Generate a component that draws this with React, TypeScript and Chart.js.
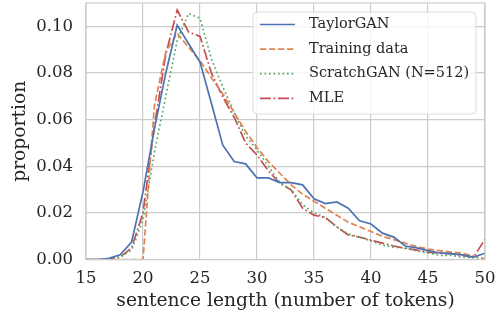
import React, { useEffect, useRef } from "react";
import { Chart, registerables } from "chart.js";

Chart.register(...registerables);

const lengths = [15,16,17,18,19,20,21,22,23,24,25,26,27,28,29,30,31,32,33,34,35,36,37,38,39,40,41,42,43,44,45,46,47,48,49,50];
const taylorGAN = [0,0,0.0005,0.002,0.0075,0.029,0.056,0.08,0.1005,0.0925,0.0847,0.067,0.049,0.042,0.041,0.035,0.035,0.033,0.033,0.032,0.026,0.024,0.0247,0.022,0.0166,0.0152,0.0113,0.0096,0.0058,0.005,0.0038,0.0028,0.0025,0.002,0.001,0.0027];
const trainingData = [0,0,0,0,0,0,0.066,0.089,0.097,0.091,0.0852,0.078,0.071,0.063,0.055,0.048,0.042,0.037,0.032,0.028,0.025,0.022,0.019,0.016,0.014,0.012,0.01,0.0085,0.007,0.0055,0.0045,0.0038,0.0032,0.0027,0.0015,0.0002];
const scratchGAN = [0,0,0,0.001,0.004,0.017,0.046,0.07,0.094,0.1055,0.1035,0.086,0.074,0.063,0.053,0.047,0.04,0.033,0.03,0.0235,0.02,0.018,0.014,0.011,0.0096,0.008,0.0062,0.0052,0.005,0.0037,0.0028,0.0018,0.0018,0.001,0.0008,0.0005];
const mle = [0,0,0.0003,0.001,0.005,0.02,0.057,0.088,0.107,0.0975,0.0957,0.08,0.0697,0.061,0.05,0.0448,0.038,0.0327,0.0298,0.022,0.019,0.018,0.014,0.0105,0.0096,0.0083,0.007,0.0058,0.0048,0.004,0.0032,0.0028,0.0025,0.0018,0.001,0.0087];
const seriesLabels = ["TaylorGAN", "Training data", "ScratchGAN (N=512)", "MLE"];
const yTickValues = [0, 0.02, 0.04, 0.06, 0.08, 0.1];
const xTickValues = [15, 20, 25, 30, 35, 40, 45, 50];

const FONT = "'DejaVu Serif', serif";
const TEXT = "#262626";
const GRID = "#cccccc";
const LW = 1.7;

const styles = [
  { color: "#4c72b0", dash: [] as number[] },
  { color: "#dd8452", dash: [3.7 * LW, 1.6 * LW] },
  { color: "#55a868", dash: [1 * LW, 1.65 * LW] },
  { color: "#c44e52", dash: [6.4 * LW, 1.6 * LW, 1 * LW, 1.6 * LW] },
];

const frameAndLegend = {
  id: "frameAndLegend",
  afterDatasetsDraw(chart: any) {
    const { ctx, chartArea } = chart;
    ctx.save();
    ctx.strokeStyle = GRID;
    ctx.lineWidth = 1.2;
    ctx.strokeRect(chartArea.left, chartArea.top, chartArea.right - chartArea.left, chartArea.bottom - chartArea.top);
    // legend
    const boxW = 223, boxH = 102;
    const bx = chartArea.right - 9 - boxW;
    const by = chartArea.top + 9;
    ctx.globalAlpha = 0.8;
    ctx.fillStyle = "#ffffff";
    ctx.beginPath();
    (ctx as any).roundRect(bx, by, boxW, boxH, 4);
    ctx.fill();
    ctx.globalAlpha = 1;
    ctx.strokeStyle = "#dcdcdc";
    ctx.lineWidth = 1;
    ctx.stroke();
    ctx.font = `14.5px ${FONT}`;
    ctx.textBaseline = "middle";
    ctx.textAlign = "left";
    chart.data.datasets.forEach((ds: any, i: number) => {
      const cy = by + 12.5 + i * 24.6;
      ctx.strokeStyle = ds.borderColor;
      ctx.lineWidth = LW;
      ctx.setLineDash(ds.borderDash || []);
      ctx.beginPath();
      ctx.moveTo(bx + 7, cy);
      ctx.lineTo(bx + 42, cy);
      ctx.stroke();
      ctx.setLineDash([]);
      ctx.fillStyle = TEXT;
      ctx.fillText(ds.label, bx + 56, cy);
    });
    ctx.restore();
  },
};

export default function App() {
  const ref = useRef<HTMLCanvasElement | null>(null);
  useEffect(() => {
    if (!ref.current) return;
    const series = [taylorGAN, trainingData, scratchGAN, mle];
    const chart = new Chart(ref.current, {
      type: "line",
      data: {
        datasets: series.map((vals, i) => ({
          label: seriesLabels[i],
          data: lengths.map((x, j) => ({ x, y: vals[j] })),
          borderColor: styles[i].color,
          borderDash: styles[i].dash,
          borderWidth: LW,
          pointRadius: 0,
          fill: false,
          tension: 0,
        })),
      },
      options: {
        animation: false,
        responsive: false,
        layout: { padding: { top: 3, right: 14, left: 0, bottom: 0 } },
        plugins: { legend: { display: false }, tooltip: { enabled: false } },
        scales: {
          x: {
            type: "linear",
            min: 15,
            max: 50,
            afterBuildTicks: (s: any) => { s.ticks = xTickValues.map((v) => ({ value: v })); },
            afterFit: (s: any) => { s.height = 57.5; s.paddingLeft = 0; s.paddingRight = 0; },
            grid: { color: GRID, lineWidth: 1.2, drawTicks: false },
            border: { display: false },
            ticks: { color: TEXT, font: { family: FONT, size: 16.5 }, padding: 9, maxRotation: 0 },
            title: { display: true, text: "sentence length (number of tokens)", color: TEXT, font: { family: FONT, size: 18.7 }, padding: { top: 0, bottom: 5 } },
          },
          y: {
            type: "linear",
            min: 0,
            max: 0.11,
            afterBuildTicks: (s: any) => { s.ticks = yTickValues.map((v) => ({ value: v })); },
            afterFit: (s: any) => { s.width = 86; s.paddingTop = 0; s.paddingBottom = 0; },
            grid: { color: GRID, lineWidth: 1.2, drawTicks: false },
            border: { display: false },
            ticks: { color: TEXT, font: { family: FONT, size: 16.5 }, padding: 13, callback: (v: any) => Number(v).toFixed(2) },
            title: { display: true, text: "proportion", color: TEXT, font: { family: FONT, size: 18.7 }, padding: { top: 8.5, bottom: 0 } },
          },
        },
      },
      plugins: [frameAndLegend],
    });
    return () => chart.destroy();
  }, []);
  return (
    <div style={{ position: "fixed", left: 0, top: 0, width: 499, height: 317, background: "#fff" }}>
      <canvas ref={ref} width={499} height={317} />
    </div>
  );
}
